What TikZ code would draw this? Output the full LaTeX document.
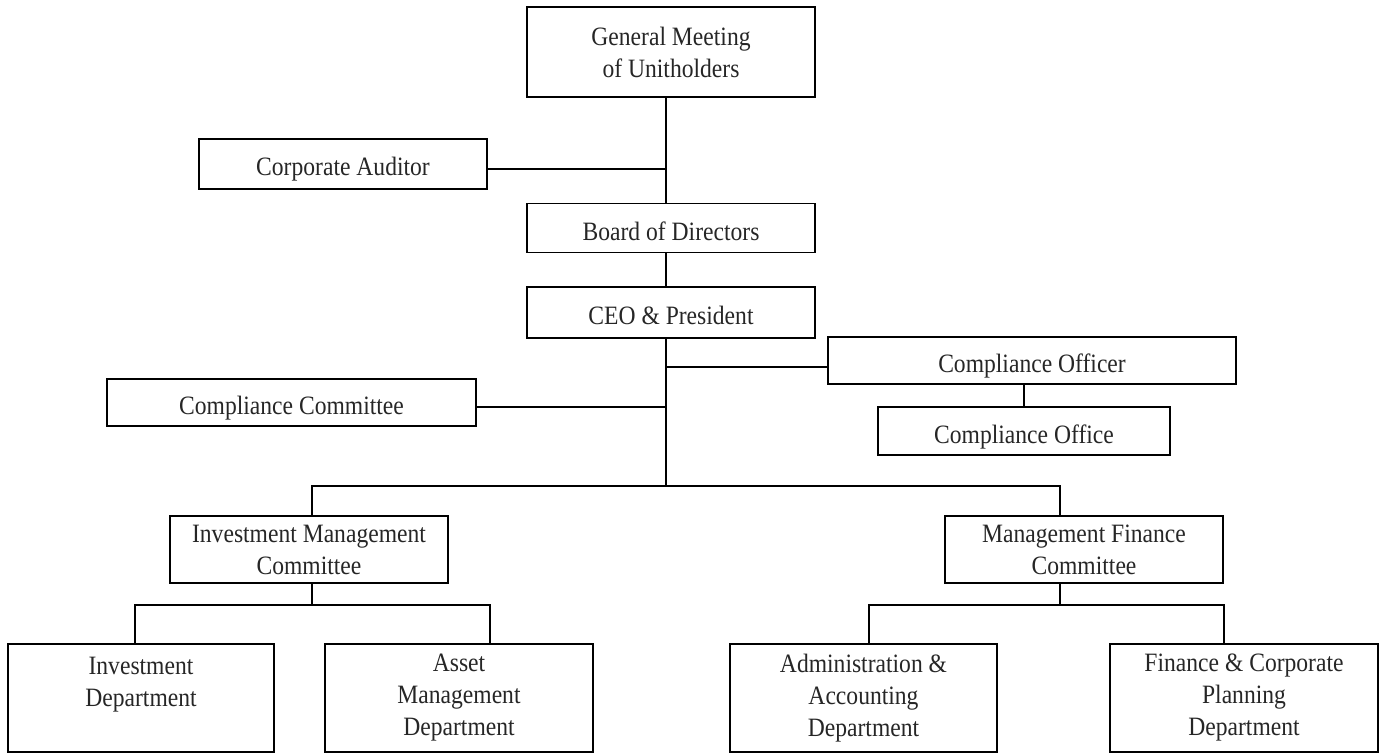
\documentclass[tikz,border=0pt]{standalone}
\usepackage{fontspec}
\setmainfont{Liberation Serif}[FakeStretch=0.89]
\begin{document}
\begin{tikzpicture}[x=1pt,y=-1pt,
  box/.style={draw, line width=1.6pt, inner sep=0pt, align=center,
    text=black!85, font=\fontsize{26.5}{32}\selectfont},
  one/.style={box, text height=24pt, text depth=0pt},
  link/.style={line width=1.6pt}]
\useasboundingbox (0,0) rectangle (1383,754);
% boxes (centre, width, height in px)
\node[box, minimum width=288pt, minimum height=90pt] (gm) at (671,52) {General Meeting\\of Unitholders};
\node[one, minimum width=288pt, minimum height=50pt] (ca) at (343,164) {Corporate Auditor};
\node[one, minimum width=288pt, minimum height=49pt] (bd) at (671,228) {Board of Directors};
\node[one, minimum width=288pt, minimum height=51pt] (ceo) at (671,312.5) {CEO \& President};
\node[one, minimum width=408pt, minimum height=47pt] (co) at (1032,360.5) {Compliance Officer};
\node[one, minimum width=369pt, minimum height=47pt] (cc) at (291.5,402.5) {Compliance Committee};
\node[one, minimum width=292pt, minimum height=48pt] (cof) at (1024,431) {Compliance Office};
\node[box, minimum width=278pt, minimum height=67pt] (imc) at (309,549.5) {Investment Management\\Committee};
\node[box, minimum width=278pt, minimum height=67pt] (mfc) at (1084,549.5) {Management Finance\\Committee};
\node[box, minimum width=266pt, minimum height=108pt] (id) at (141,698) {Investment\\Department\\\mbox{}};
\node[box, minimum width=268pt, minimum height=108pt] (amd) at (459,698) {Asset\\Management\\Department};
\node[box, minimum width=267pt, minimum height=108pt] (aad) at (863.5,698) {Administration \&\\Accounting\\Department};
\node[box, minimum width=268pt, minimum height=108pt] (fcp) at (1244,698) {Finance \& Corporate\\Planning\\Department};
% connector guide coordinates
\coordinate (trunk) at (666,0);
\coordinate (bus) at (0,486);
\coordinate (lbus) at (0,605);
\coordinate (ik) at (312,0);
\coordinate (mk) at (1060,0);
\coordinate (idk) at (135,0);
\coordinate (amk) at (490,0);
\coordinate (aak) at (869,0);
\coordinate (fck) at (1224,0);
% connectors
\draw[link] (gm.south -| trunk) -- (bd.north -| trunk);
\draw[link] ([yshift=-5pt]ca.east) -- ([yshift=-5pt]ca.east -| trunk);
\draw[link] (bd.south -| trunk) -- (ceo.north -| trunk);
\draw[link] (ceo.south -| trunk) -- (trunk |- bus);
\draw[link] ([yshift=-6.5pt]co.west) -- ([yshift=-6.5pt]co.west -| trunk);
\draw[link] ([yshift=-4.5pt]cc.east) -- ([yshift=-4.5pt]cc.east -| trunk);
\draw[link] (cof.north) -- (cof.north |- co.south);
\draw[link] (ik |- imc.north) -- (ik |- bus) -- (mk |- bus) -- (mk |- mfc.north);
\draw[link] (ik |- imc.south) -- (ik |- lbus);
\draw[link] (idk |- id.north) -- (idk |- lbus) -- (amk |- lbus) -- (amk |- amd.north);
\draw[link] (mk |- mfc.south) -- (mk |- lbus);
\draw[link] (aak |- aad.north) -- (aak |- lbus) -- (fck |- lbus) -- (fck |- fcp.north);
\end{tikzpicture}
\end{document}
